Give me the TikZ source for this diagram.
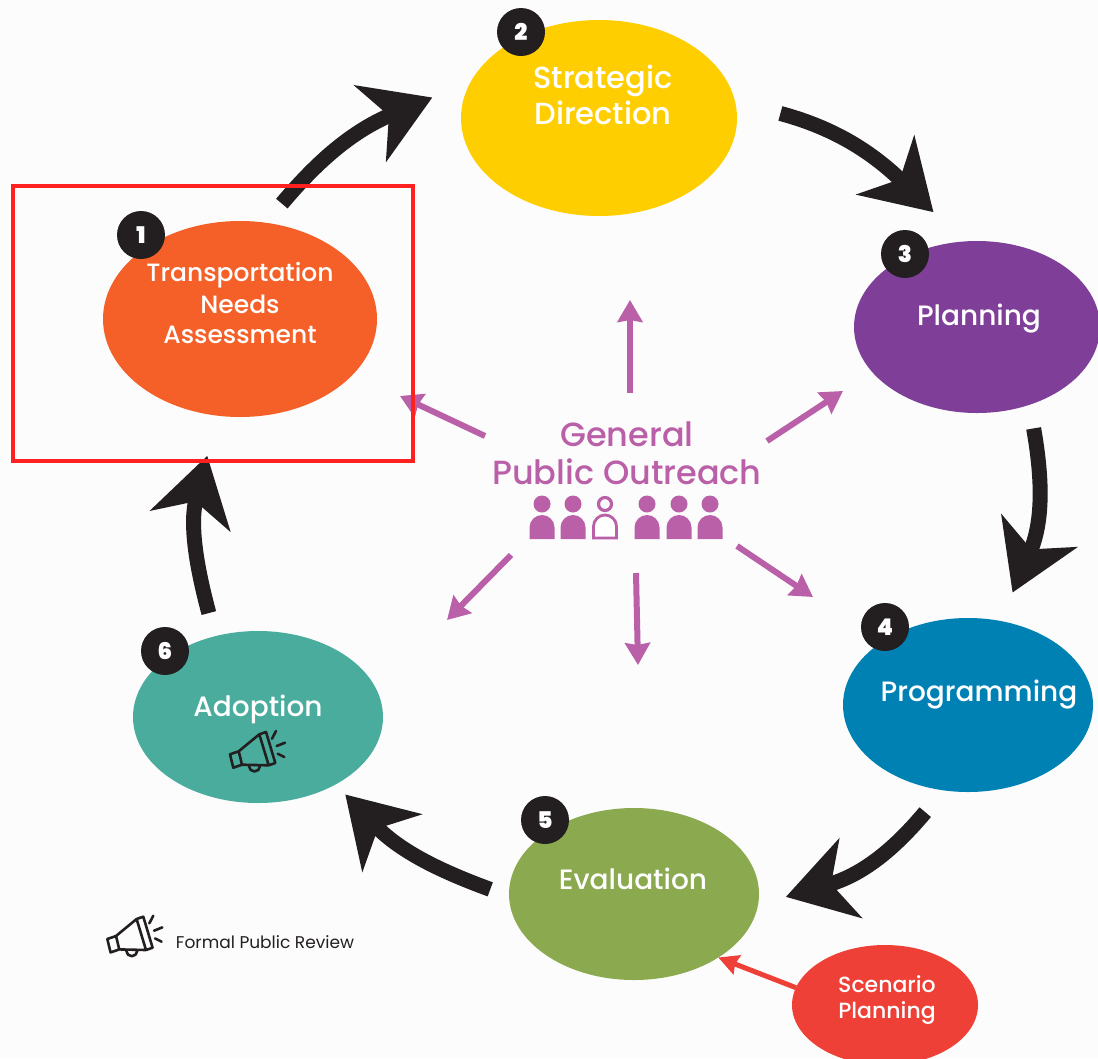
\documentclass[tikz,border=0pt]{standalone}
\usepackage{fontspec}
\setmainfont{Poppins}
\newfontfamily\labfont{Poppins Medium}
\newfontfamily\numfont{Poppins Black}
\usetikzlibrary{arrows.meta,shapes.geometric}
\definecolor{cOne}{HTML}{F46027}
\definecolor{cTwo}{HTML}{FFCE00}
\definecolor{cThree}{HTML}{7F3F98}
\definecolor{cFour}{HTML}{0081B4}
\definecolor{cFive}{HTML}{8BA94F}
\definecolor{cSix}{HTML}{4AAC9C}
\definecolor{cScen}{HTML}{EE4036}
\definecolor{cInk}{HTML}{231F20}
\definecolor{cPub}{HTML}{B960A8}
\tikzset{
  x=1pt,y=1pt,
  blob/.style={ellipse,inner sep=0pt,outer sep=0pt,minimum width=#1},
  badge/.style={circle,fill=cInk,inner sep=0pt,minimum size=48pt,text=white,font=\numfont\fontsize{23}{23}\selectfont},
  lab/.style={text=white,align=center,inner sep=0pt,font=\labfont\fontsize{#1}{#1}\selectfont},
  big/.style={draw=cInk,line width=15pt,-{Stealth[length=67pt,width=82pt,inset=20pt]}},
  pub/.style={draw=cPub,line width=6pt,-{Stealth[length=22pt,width=25pt,inset=2pt]}},
  pers/.pic={
    \fill (0,12) circle (8.5);
    \fill (-12.5,-23) -- (-12.5,-11.5) arc[start angle=180,end angle=0,radius=12.5] -- (12.5,-23) -- cycle;
  },
  persO/.pic={
    \draw[line width=3.2pt] (0,12) circle (6.5);
    \draw[line width=2.8pt,fill=white] (-11.5,-22) -- (-11.5,-10.5) arc[start angle=180,end angle=0,radius=11.5] -- (11.5,-22) -- cycle;
  },
  horn/.pic={
    \draw[line width=2.6pt,line join=round,cInk]
      (-26,-2.3) -- (-17.3,.7) -- (-14,-12.7) -- (-22.7,-15.7) -- cycle
      (-17.3,.7) -- (3.3,17.7) (-14,-12.7) -- (12.7,-13.3)
      (3.3,17.7) -- (10,20) -- (19.3,-11) -- (12.7,-13.3) -- cycle
      (-7,-14) arc[start angle=180,end angle=360,radius=5.5];
    \draw[line width=2.6pt,line cap=round,cInk]
      (16,13.3) -- (20,21) (20.7,6) -- (29,9.3) (21.7,-1.7) -- (28.3,-5);
  }
}
\begin{document}
\begin{tikzpicture}
\useasboundingbox (0,0) rectangle (1098,-1058);
\fill[white!99!black] (0,0) rectangle (1098,-1058);
% stages
\node[blob=274pt,minimum height=196pt,fill=cOne] (n1) at (240,-319) {};
\node[blob=276pt,minimum height=196pt,fill=cTwo] (n2) at (599,-118) {};
\node[blob=246pt,minimum height=172pt,fill=cThree] (n3) at (977,-327) {};
\node[blob=250pt,minimum height=174pt,fill=cFour] (n4) at (968,-705) {};
\node[blob=250pt,minimum height=172pt,fill=cFive] (n5) at (634,-894) {};
\node[blob=250pt,minimum height=172pt,fill=cSix] (n6) at (258,-717) {};
\node[blob=186pt,minimum height=120pt,fill=cScen] (scen) at (885,-1005) {};
% badges
\node[badge] (b1) at (141,-235) {1};
\node[badge] (b2) at (521,-32) {2};
\node[badge] (b3) at (905,-254) {3};
\node[badge] (b4) at (885,-627) {4};
\node[badge] (b5) at (545,-820) {5};
\node[badge] (b6) at (165,-651) {6};
% labels
\node[lab=25] (t1) at (240,-303) {Transportation\\[5pt]Needs\\[5pt]Assessment};
\node[lab=30.5] (t2) at (603,-95) {Strategic\\[3.5pt]Direction};
\node[lab=28] (t3) at (979,-319) {Planning};
\node[lab=28] (t4) at (979,-695) {Programming};
\node[lab=28] (t5) at (633,-879) {Evaluation};
\node[lab=28] (t6) at (258,-709) {Adoption};
\node[lab=22] (t7) at (887,-1000) {Scenario\\[4pt]Planning};
\node[lab=33.5,text=cPub] (gpo) at (627,-453) {General\\[4.5pt]Public Outreach};
\node[text=cInk,inner sep=0pt,font=\fontsize{17}{17}\selectfont] (leg) at (265,-942) {Formal Public Review};
% cycle arrows
\draw[big,shorten <=25pt,shorten >=42pt] (n1.75.5) to[out=50,in=202.7,out distance=80pt,in distance=129pt] (n2.164);
\draw[big,shorten <=47pt,shorten >=42pt] (n2.7.5) to[out=-15,in=135.6,out distance=95pt,in distance=135pt] (n3.99.3);
\draw[big,shorten <=24pt,shorten >=31pt] (n3.-56) to[out=-80,in=66.6,out distance=80pt,in distance=106pt] (n4.69.4);
\draw[big,shorten <=28.5pt,shorten >=29pt] (n4.-106.3) to[out=-130,in=16,out distance=80pt,in distance=107pt] (n5.-5);
\draw[big,shorten <=20pt,shorten >=14pt] (n5.181.4) to[out=160,in=-46,out distance=79pt,in distance=90pt] (n6.-41.7);
\draw[big,shorten <=24pt,shorten >=41.5pt] (n6.118.5) to[out=105,in=-104.6,out distance=78pt,in distance=110pt] (n1.-103.2);
\draw[draw=cScen,line width=5pt,-{Stealth[length=20pt,width=20pt,inset=2pt]}] (scen.169) -- (n5.-37.3);
% outreach arrows
\coordinate (p1a) at (630,-393); \coordinate (p1b) at (630,-300);
\coordinate (p2a) at (485,-436); \coordinate (p2b) at (400,-396);
\coordinate (p3a) at (767,-441); \coordinate (p3b) at (843,-391);
\coordinate (p4a) at (737,-546); \coordinate (p4b) at (813,-597);
\coordinate (p5a) at (636,-573); \coordinate (p5b) at (638,-665);
\coordinate (p6a) at (511,-555); \coordinate (p6b) at (447,-620);
\draw[pub] (p1a) -- (p1b);
\draw[pub] (p2a) -- (p2b);
\draw[pub] (p3a) -- (p3b);
\draw[pub] (p4a) -- (p4b);
\draw[pub] (p5a) -- (p5b);
\draw[pub] (p6a) -- (p6b);
% people
\begin{scope}[fill=cPub,draw=cPub]
\pic at (542,-516) {pers};
\pic at (573,-516) {pers};
\pic at (605,-516) {persO};
\pic at (647,-516) {pers};
\pic at (679,-516) {pers};
\pic at (710,-516) {pers};
\end{scope}
% megaphones
\pic at (256,-752) {horn};
\pic at (133.3,-936.7) {horn};
% annotation frame
\node[draw={rgb,255:red,255;green,32;blue,32},line width=4pt,inner sep=0pt,minimum width=400pt,minimum height=275pt] (frame) at (213,-323.5) {};
\end{tikzpicture}
\end{document}
